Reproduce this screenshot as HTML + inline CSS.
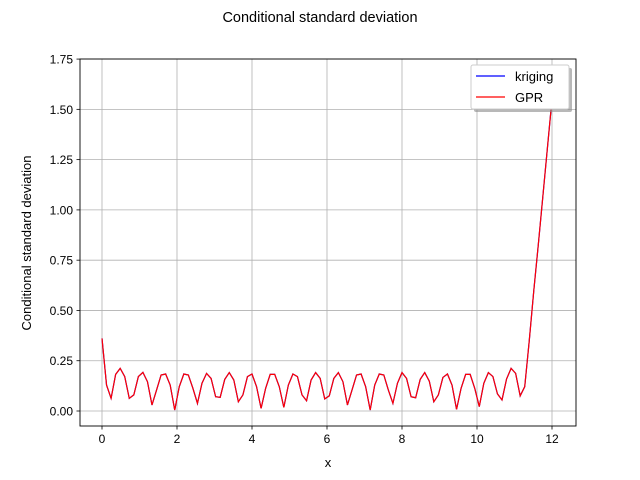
<!DOCTYPE html>
<html><head><meta charset="utf-8"><style>
body{margin:0;background:#fff}
svg{display:block;font-family:"Liberation Sans","DejaVu Sans",sans-serif}
</style></head><body>
<svg id="chart" width="640" height="480" viewBox="0 0 640 480">
<rect width="640" height="480" fill="#fff"/>
<text x="320" y="22" font-size="14.5" text-anchor="middle">Conditional standard deviation</text>
<g id="grid"></g>
<g id="series"></g>
<rect x="80" y="59" width="496" height="367" fill="none" stroke="#000" stroke-width="0.9"/>
<g id="axes"></g>
<text x="328" y="467" font-size="13" text-anchor="middle">x</text>
<text transform="translate(31,243) rotate(-90)" font-size="13" text-anchor="middle">Conditional standard deviation</text>
<g>
<rect x="474" y="68" width="98" height="44" rx="2" fill="#888" opacity="0.6"/>
<rect x="471" y="65" width="98" height="44" rx="2" fill="#fff" stroke="#ccc"/>
<line x1="476" y1="76" x2="505" y2="76" stroke="#0000ff" stroke-width="1.2"/>
<text x="515" y="81" font-size="13">kriging</text>
<line x1="476" y1="97" x2="505" y2="97" stroke="#ff0000" stroke-width="1.2"/>
<text x="515" y="102" font-size="13">GPR</text>
</g>
</svg>
<script>
const xTicks=[0,2,4,6,8,10,12];
const yTicks=[0,0.25,0.5,0.75,1.0,1.25,1.5,1.75];
const yTickLabels=["0.00","0.25","0.50","0.75","1.00","1.25","1.50","1.75"];
const nPoints=100;
const xMin=0, xMax=12;
const gprValues=[0.361,0.129,0.063,0.182,0.212,0.171,0.063,0.080,0.171,0.192,0.146,0.030,0.104,0.179,0.184,0.129,0.005,0.121,0.184,0.179,0.113,0.038,0.138,0.187,0.162,0.071,0.068,0.157,0.191,0.154,0.046,0.080,0.171,0.184,0.121,0.013,0.113,0.182,0.182,0.121,0.018,0.129,0.184,0.171,0.080,0.051,0.154,0.191,0.162,0.060,0.075,0.162,0.191,0.146,0.030,0.104,0.179,0.184,0.121,0.005,0.129,0.184,0.179,0.104,0.038,0.138,0.191,0.162,0.071,0.066,0.157,0.191,0.149,0.046,0.080,0.167,0.184,0.129,0.008,0.113,0.182,0.182,0.113,0.022,0.138,0.191,0.171,0.085,0.055,0.159,0.212,0.187,0.075,0.121,0.35,0.60,0.83,1.07,1.31,1.55];
const krigingValues=gprValues.slice();
const xs=[];for(let i=0;i<nPoints;i++)xs.push(xMin+(xMax-xMin)*i/(nPoints-1));
const NS="http://www.w3.org/2000/svg";
const sx=v=>102+v*37.5;
const sy=v=>411-v*201.1;
const grid=document.getElementById('grid'),axes=document.getElementById('axes'),series=document.getElementById('series');
function mk(tag,attrs,parent){const e=document.createElementNS(NS,tag);for(const k in attrs)e.setAttribute(k,attrs[k]);parent.appendChild(e);return e;}
xTicks.forEach(t=>{
 const g=mk('line',{x1:sx(t),x2:sx(t),y1:59,y2:426,stroke:'#b0b0b0','stroke-width':0.8},grid);
 
 
 mk('line',{x1:sx(t),x2:sx(t),y1:426,y2:429.5,stroke:'#000','stroke-width':0.8},axes);
 const tx=mk('text',{x:sx(t),y:443,'font-size':12,'text-anchor':'middle'},axes);
 tx.textContent=t;
 
 
});
yTicks.forEach((t,i)=>{
 const g=mk('line',{x1:80,x2:576,y1:sy(t),y2:sy(t),stroke:'#b0b0b0','stroke-width':0.8},grid);
 
 
 mk('line',{x1:76.5,x2:80,y1:sy(t),y2:sy(t),stroke:'#000','stroke-width':0.8},axes);
 const tx=mk('text',{x:73,y:sy(t)+4.5,'font-size':12,'text-anchor':'end'},axes);
 tx.textContent=yTickLabels[i];
 
 
});
function pts(vals){return vals.map((v,i)=>sx(xs[i]).toFixed(2)+','+sy(v).toFixed(2)).join(' ');}
const k=mk('polyline',{points:pts(krigingValues),fill:'none',stroke:'#0000ff','stroke-width':1.2},series);


const p=mk('polyline',{points:pts(gprValues),fill:'none',stroke:'#ff0000','stroke-width':1.2},series);


</script>
</body></html>
